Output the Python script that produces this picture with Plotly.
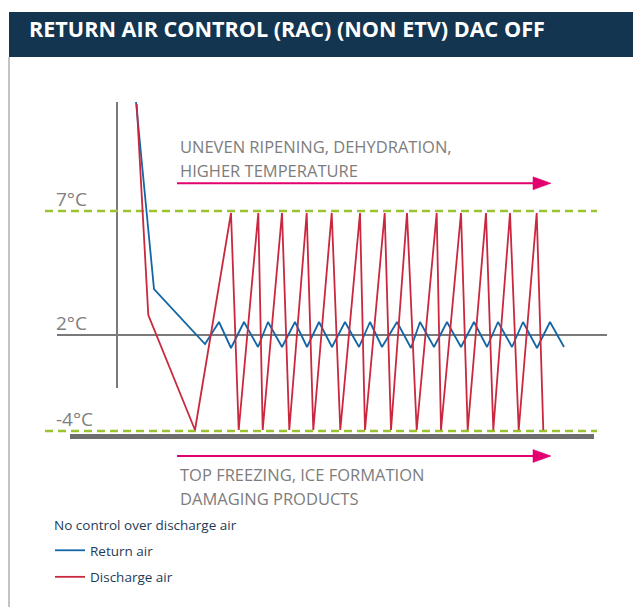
import plotly.graph_objects as go

# ---------------- data (schematic units) ----------------
# x: time units (0 = vertical axis), y: schematic level (0 = -4°C line)
return_x = [19, 37, 88, 102, 114, 127, 141, 151, 165, 178, 190, 202, 215, 228, 242,
            253, 265, 280, 294, 303, 317, 330, 344, 357, 370, 381, 395, 406, 420, 433, 447]
return_y = [329, 142, 87, 109, 83, 109, 84, 109, 84, 109, 84, 109, 84, 109, 84,
            109, 84, 109, 83, 109, 84, 109, 84, 109, 84, 109, 84, 109, 83, 109, 84]

discharge_x = [19.7, 31.3, 78, 114, 121.7, 141.3, 145.7, 165, 172.3, 189.7, 196.3, 214.7,
               223.3, 243, 248, 267.7, 274, 290, 299.7, 319.7, 324, 344, 350.7, 369,
               376.3, 393, 401.7, 419.7, 426.3]
discharge_y = [327, 116, 1, 218, 1, 218, 1, 218, 1, 218, 1, 218,
               1, 218, 1, 218, 1, 218, 1, 218, 1, 218, 1, 218,
               1, 218, 1, 218, 1]

temp_levels = [220, 96, 0]          # schematic positions of the reference levels
temp_labels = ["7°C", "2°C", "-4°C"]

title_text = "RETURN AIR CONTROL (RAC) (NON ETV) DAC OFF"
upper_note = ["UNEVEN RIPENING, DEHYDRATION,", "HIGHER TEMPERATURE"]
lower_note = ["TOP FREEZING, ICE FORMATION", "DAMAGING PRODUCTS"]
legend_title = "No control over discharge air"

# ---------------- layout helpers ----------------
W, H = 633, 607
X0, Y0 = 117, 431  # pixel position of the data origin


def X(px):
    return px - X0


def Y(py):
    return Y0 - py


NAVY = "#14354f"
BLUE = "#1366a6"
RED = "#c9283e"
GREEN = "#9bc230"
GRAY = "#7f7f7f"
PINK = "#e2006f"
LEG = "#1d3b57"
FONT = "Open Sans"

fig = go.Figure()
fig.add_trace(go.Scatter(x=return_x, y=return_y, mode="lines", name="Return air",
                         legendgroup="r", line=dict(color=BLUE, width=1.8), hoverinfo="skip"))
fig.add_trace(go.Scatter(x=discharge_x, y=discharge_y, mode="lines", name="Discharge air",
                         legendgroup="d", line=dict(color=RED, width=1.8), hoverinfo="skip"))

shapes = []
# header bar
shapes.append(dict(type="rect", xref="x", yref="y", x0=X(9), x1=X(633), y0=Y(12), y1=Y(57),
                   fillcolor=NAVY, line=dict(width=0), layer="below"))
# left border
shapes.append(dict(type="line", xref="x", yref="y", x0=X(9), x1=X(9), y0=Y(57), y1=Y(607),
                   line=dict(color="#c4c4c4", width=2), layer="below"))
# vertical axis line
shapes.append(dict(type="line", x0=0, x1=0, y0=Y(102), y1=Y(388),
                   line=dict(color="#7a7a7a", width=2), layer="below"))
# 2°C horizontal gray axis
shapes.append(dict(type="line", x0=X(57), x1=X(607), y0=temp_levels[1], y1=temp_levels[1],
                   line=dict(color="#7a7a7a", width=2), layer="below"))
# thick base bar
shapes.append(dict(type="line", x0=X(70), x1=X(594), y0=Y(436.5), y1=Y(436.5),
                   line=dict(color="#6e6e6e", width=5), layer="below"))
# green dashed limits
for lv in (temp_levels[0], temp_levels[2]):
    shapes.append(dict(type="line", x0=X(45), x1=X(597), y0=lv, y1=lv,
                       line=dict(color=GREEN, width=2.5, dash="8px,5px"), layer="below"))
# pink arrows
for ay in (183.3, 456):
    shapes.append(dict(type="line", x0=X(177), x1=X(535), y0=Y(ay), y1=Y(ay),
                       line=dict(color=PINK, width=2)))
    shapes.append(dict(type="path",
                       path=f"M {X(533)} {Y(ay - 6.5)} L {X(551)} {Y(ay)} L {X(533)} {Y(ay + 6.5)} Z",
                       fillcolor=PINK, line=dict(color=PINK, width=0.5)))

annotations = []
annotations.append(dict(x=X(27), y=Y(28.5), text=f"<b>{title_text}</b>", showarrow=False,
                        xanchor="left", yanchor="middle",
                        font=dict(family=FONT, size=21.6, color="white")))
label_cy = [199, 323, 419]
for lab, cy in zip(temp_labels, label_cy):
    annotations.append(dict(x=X(54), y=Y(cy), text=lab, showarrow=False, xanchor="left",
                            yanchor="middle", font=dict(family=FONT, size=19, color=GRAY)))
for txt, cy in zip(upper_note, [146.5, 170]):
    annotations.append(dict(x=X(178), y=Y(cy), text=txt, showarrow=False, xanchor="left",
                            yanchor="middle", font=dict(family=FONT, size=16.5, color="#7d7d7d")))
for txt, cy in zip(lower_note, [474.5, 498]):
    annotations.append(dict(x=X(178), y=Y(cy), text=txt, showarrow=False, xanchor="left",
                            yanchor="middle", font=dict(family=FONT, size=16.5, color="#7d7d7d")))
# legend heading
annotations.append(dict(x=X(52), y=Y(525), text=legend_title, showarrow=False, xanchor="left",
                        yanchor="middle", font=dict(family=FONT, size=13.5, color=LEG)))

fig.update_layout(
    width=W, height=H, autosize=False,
    margin=dict(l=0, r=0, t=0, b=0),
    paper_bgcolor="white", plot_bgcolor="white",
    xaxis=dict(range=[X(0), X(W)], visible=False, fixedrange=True),
    yaxis=dict(range=[Y(H), Y(0)], visible=False, fixedrange=True),
    shapes=shapes, annotations=annotations,
    showlegend=True,
    legend=dict(x=50 / W, y=1 - 535 / H, xanchor="left", yanchor="top",
                bgcolor="rgba(0,0,0,0)", borderwidth=0,
                font=dict(family=FONT, size=13.5, color=LEG),
                tracegroupgap=6, itemwidth=30),
)

fig.write_html("out.html", config={"displayModeBar": False},
               post_script="document.body.style.margin='0';")
